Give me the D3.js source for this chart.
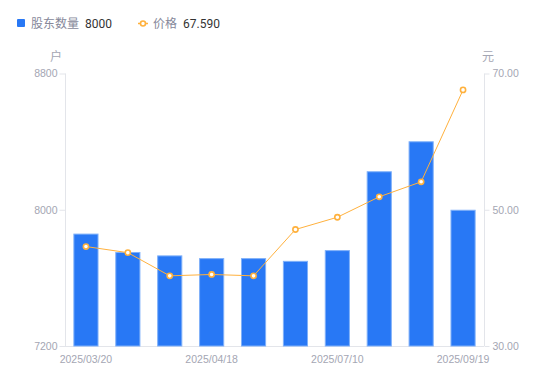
<!DOCTYPE html>
<html><head><meta charset="utf-8">
<script src="https://cdn.jsdelivr.net/npm/d3@7/dist/d3.min.js"></script>
<style>
body{margin:0;background:#fff;}
svg{display:block;font-family:"Noto Sans CJK SC","Noto Sans",Roboto,sans-serif;}
</style></head>
<body><svg id="c" width="550" height="381"></svg>
<script>
const dates = ["2025/03/20","2025/03/31","2025/04/10","2025/04/18","2025/04/30","2025/05/20","2025/07/10","2025/08/10","2025/08/29","2025/09/19"];
const holders = [7860, 7752, 7732, 7716, 7716, 7700, 7763, 8226, 8402, 8000];
const prices = [44.6, 43.7, 40.3, 40.5, 40.3, 47.1, 48.9, 51.9, 54.1, 67.59];
const leftTicks = [7200, 8000, 8800];
const rightTicks = [30, 50, 70];
const xLabelIdx = [0, 3, 6, 9];
const legendNames = ["股东数量", "价格"];
const legendValues = ["8000", "67.590"];

const svg = d3.select("#c");
const L = 65, R = 484, T = 73.5, B = 346;
const blue = "#2878F5", orange = "#FFB13D", axisCol = "#E3E5EA", txtCol = "#A4A6B3";
const numFont = "'Liberation Sans', Arial, sans-serif";

const x = d3.scaleBand().domain(dates).range([L, R]).paddingInner(0.4).paddingOuter(0.2);
const yL = d3.scaleLinear().domain([7200, 8800]).range([B, T]);
const yR = d3.scaleLinear().domain([30, 70]).range([B, T]);

// axes
const gl = svg.append("g").attr("transform", `translate(${L + 0.5},0)`)
  .call(d3.axisLeft(yL).tickValues(leftTicks).tickSize(6).tickPadding(2).tickFormat(d3.format("d")));
const gr = svg.append("g").attr("transform", `translate(${R + 0.5},0)`)
  .call(d3.axisRight(yR).tickValues(rightTicks).tickSize(5).tickPadding(3).tickFormat(d3.format(".2f")));
[gl, gr].forEach(g => {
  g.select(".domain").attr("stroke", axisCol).attr("d", `M0,${T}V${B}`);
  g.selectAll(".tick line").attr("stroke", axisCol);
  g.selectAll(".tick text").attr("fill", txtCol).style("font-size", "10.5px").style("font-family", numFont);
});
svg.append("line").attr("x1", L).attr("x2", R).attr("y1", B + 0.5).attr("y2", B + 0.5).attr("stroke", axisCol);

// x labels
const xc = d => x(d) + x.bandwidth() / 2;
svg.append("g").selectAll("text").data(xLabelIdx).join("text")
  .attr("x", i => xc(dates[i]))
  .attr("y", B + 16.5).attr("text-anchor", "middle")
  .attr("fill", txtCol).style("font-size", "10.5px").style("font-family", numFont)
  .text(i => dates[i]);

// units
svg.append("text").attr("x", 56).attr("y", 61).attr("text-anchor", "middle").attr("fill", txtCol).style("font-size", "12px").text("户");
svg.append("text").attr("x", 488).attr("y", 61).attr("text-anchor", "middle").attr("fill", txtCol).style("font-size", "12px").text("元");

// bars
svg.append("g").selectAll("rect").data(holders).join("rect")
  .attr("x", (d, i) => x(dates[i]) + 0.5)
  .attr("y", d => yL(d) + 0.5)
  .attr("width", x.bandwidth() - 1)
  .attr("height", d => B - yL(d) - 0.5)
  .attr("fill", blue).attr("stroke", "#7FB0F9").attr("stroke-width", 1);

// line
const line = d3.line().x((d, i) => xc(dates[i])).y(d => yR(d));
svg.append("path").datum(prices).attr("d", line).attr("fill", "none").attr("stroke", orange).attr("stroke-width", 1);
svg.append("g").selectAll("circle").data(prices).join("circle")
  .attr("cx", (d, i) => xc(dates[i])).attr("cy", d => yR(d)).attr("r", 2.6)
  .attr("fill", "#fff").attr("stroke", orange).attr("stroke-width", 1.6);

// legend
const lg = svg.append("g");
lg.append("rect").attr("x", 17).attr("y", 19).attr("width", 8).attr("height", 8).attr("rx", 1).attr("fill", blue);
lg.append("text").attr("x", 31).attr("y", 28).attr("fill", "#86889A").style("font-size", "12px").text(legendNames[0]);
lg.append("text").attr("x", 85).attr("y", 28).attr("fill", "#333").style("font-size", "12px").style("font-family", "Roboto, 'Noto Sans', sans-serif").text(legendValues[0]);
lg.append("line").attr("x1", 138).attr("x2", 148).attr("y1", 23.5).attr("y2", 23.5).attr("stroke", orange).attr("stroke-width", 1.5);
lg.append("circle").attr("cx", 143).attr("cy", 23.5).attr("r", 2.5).attr("fill", "#fff").attr("stroke", orange).attr("stroke-width", 1.6);
lg.append("text").attr("x", 153).attr("y", 28).attr("fill", "#86889A").style("font-size", "12px").text(legendNames[1]);
lg.append("text").attr("x", 183).attr("y", 28).attr("fill", "#333").style("font-size", "12px").style("font-family", "Roboto, 'Noto Sans', sans-serif").text(legendValues[1]);
</script></body></html>
